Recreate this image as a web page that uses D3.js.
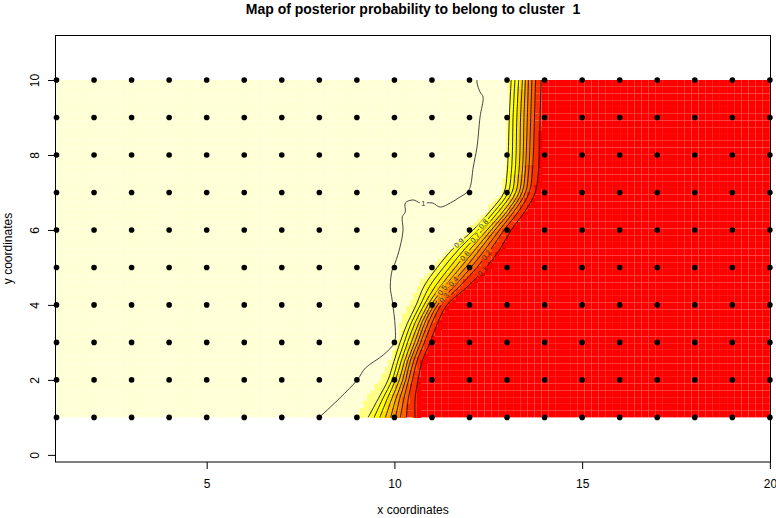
<!DOCTYPE html>
<html><head><meta charset="utf-8">
<script src="https://cdn.jsdelivr.net/npm/d3@7"></script>
<style>
body{margin:0;background:#fff}
svg{display:block}
text{font-family:"Liberation Sans",Arial,Helvetica,sans-serif}
</style>
</head><body>
<svg id="chart" width="776" height="518"></svg>
<script>
// ---- data ----
const pointX = [1,2,3,4,5,6,7,8,9,10,11,12,13,14,15,16,17,18,19,20];
const pointY = [1,2,3,4,5,6,7,8,9,10];
const xTicks = [5,10,15,20];
const yTicks = [0,2,4,6,8,10];
const contourLevels = ["0.9","0.8","0.7","0.6","0.5","0.4","0.3","0.2","0.1"];
// y positions at which contour x-positions were read
const contourY = [1,1.5,2,2.5,3,3.5,4,4.5,5,5.5,6,6.5,7,7.5,8,9,10];
const c09 = [9.30,9.57,9.83,9.99,10.15,10.34,10.58,10.79,11.14,11.56,12.10,12.55,12.92,13.00,13.03,13.06,13.11];
const c08 = [9.46,9.69,9.94,10.09,10.26,10.44,10.69,10.94,11.31,11.73,12.23,12.67,13.03,13.11,13.14,13.16,13.21];
const c07 = [9.61,9.81,10.03,10.18,10.35,10.54,10.79,11.09,11.47,11.88,12.35,12.78,13.13,13.21,13.24,13.26,13.31];
const c06 = [9.76,9.93,10.13,10.27,10.45,10.64,10.89,11.23,11.62,12.03,12.47,12.90,13.23,13.31,13.34,13.36,13.41];
const c05 = [9.90,10.04,10.22,10.35,10.54,10.72,10.98,11.35,11.76,12.17,12.58,13.00,13.32,13.40,13.43,13.45,13.49];
const c04 = [10.03,10.14,10.30,10.42,10.62,10.80,11.06,11.47,11.90,12.29,12.68,13.09,13.40,13.48,13.51,13.54,13.57];
const c03 = [10.16,10.25,10.38,10.51,10.70,10.89,11.15,11.60,12.04,12.43,12.80,13.19,13.49,13.57,13.60,13.63,13.66];
const c02 = [10.32,10.37,10.48,10.60,10.80,10.99,11.25,11.74,12.20,12.58,12.92,13.31,13.59,13.67,13.70,13.73,13.76];
const c01 = [10.55,10.55,10.63,10.74,10.95,11.14,11.40,11.96,12.44,12.82,13.11,13.48,13.75,13.83,13.86,13.88,13.91];
// boundary of the pale-yellow colour class (just left of the 0.9 line)
const paleEdge = [9.00,9.22,9.60,9.86,10.06,10.15,10.36,10.62,11.02,11.46,11.98,12.43,12.86,12.94,12.97,13.02,13.07];
// where each contour label sits (y)
const labelY = [5.65,6.16,5.79,5.31,4.40,4.62,4.19,5.33,4.90];
// the "1" contour
const contour1 = [[8.0,1.0],[8.55,1.52],[9.01,2.0],[9.23,2.32],[9.71,2.67],[10.0,3.0],[10.02,3.41],[9.94,4.13],[9.89,4.48],[9.94,4.93],[10.02,5.12],[10.15,5.55],[10.23,6.0],[10.21,6.35],[10.29,6.48],[10.29,6.72],[10.50,6.80],[10.69,6.72],[11.01,6.72],[11.22,6.61],[11.49,6.72],[11.75,6.88],[11.94,7.01],[12.02,7.15],[12.10,7.68],[12.20,8.21],[12.28,9.01],[12.36,9.55],[12.28,9.68],[12.20,9.92],[12.20,10.0]];
const label1 = [10.77,6.70];
// colour classes, left (high probability) to right (low)
const classColors = ["#FFFFD5","#FFFF80","#FFFF2A","#FFFF00","#FFDF00","#FFBF00","#FF9F00","#FF8000","#FF6000","#FF3000","#FF0000"];
const gridNX = 100, gridNY = 50, subdiv = 2;

// ---- setup ----
const svg = d3.select("#chart");
const x = d3.scaleLinear().domain([0.96,20.03]).range([55,771]);
const y = d3.scaleLinear().domain([-0.19,11.2]).range([462,35]);

const contours = [c09,c08,c07,c06,c05,c04,c03,c02,c01];
const boundaries = [paleEdge].concat(contours);

function xAt(arr, yv){
  for(let i=0;i<contourY.length-1;i++){
    if(yv>=contourY[i] && yv<=contourY[i+1]){
      const t=(yv-contourY[i])/(contourY[i+1]-contourY[i]);
      return arr[i]+t*(arr[i+1]-arr[i]);
    }
  }
  return yv<contourY[0]?arr[0]:arr[arr.length-1];
}
function classOf(cx,cy){
  let k=0;
  boundaries.forEach(b=>{ if(xAt(b,cy)<cx) k++; });
  return k;
}

// ---- image cells ----
const cellW = (20-1)/gridNX, cellH = (10-1)/gridNY;
const coarse = [], fine = [];
for(let i=0;i<gridNX;i++){
  for(let j=0;j<gridNY;j++){
    const x0=1+i*cellW, y0=1+j*cellH;
    const subs=[];
    for(let a=0;a<subdiv;a++) for(let b=0;b<subdiv;b++){
      const sx0=x0+a*cellW/subdiv, sy0=y0+b*cellH/subdiv;
      subs.push({x0:sx0,y0:sy0,x1:sx0+cellW/subdiv,y1:sy0+cellH/subdiv,
        k:classOf(sx0+cellW/subdiv/2, sy0+cellH/subdiv/2)});
    }
    if(subs.every(s=>s.k===subs[0].k)) coarse.push({x0,y0,x1:x0+cellW,y1:y0+cellH,k:subs[0].k});
    else subs.forEach(s=>fine.push(s));
  }
}
const img = svg.append("g");
img.append("g").selectAll("rect").data(coarse).join("rect")
  .attr("x",d=>x(d.x0)).attr("y",d=>y(d.y1))
  .attr("width",d=>x(d.x1)-x(d.x0)).attr("height",d=>y(d.y0)-y(d.y1))
  .attr("fill",d=>classColors[d.k]);
img.append("g").attr("shape-rendering","crispEdges").selectAll("rect").data(fine).join("rect")
  .attr("x",d=>x(d.x0)).attr("y",d=>y(d.y1))
  .attr("width",d=>x(d.x1)-x(d.x0)+0.3).attr("height",d=>y(d.y0)-y(d.y1)+0.3)
  .attr("fill",d=>classColors[d.k]);

// ---- contour labels & mask ----
const defs = svg.append("defs");
const mask = defs.append("mask").attr("id","labmask").attr("maskUnits","userSpaceOnUse")
  .attr("x",0).attr("y",0).attr("width",776).attr("height",518);
mask.append("rect").attr("x",0).attr("y",0).attr("width",776).attr("height",518).attr("fill","#fff");

const labels = contours.map((arr,i)=>{
  const ly=labelY[i];
  const lx=xAt(arr,ly);
  const xa=x(xAt(arr,ly-0.15)), ya=y(ly-0.15), xb=x(xAt(arr,ly+0.15)), yb=y(ly+0.15);
  let ang=Math.atan2(yb-ya,xb-xa)*180/Math.PI;
  if(ang>90) ang-=180; if(ang<-90) ang+=180;
  return {text:contourLevels[i],px:x(lx),py:y(ly),ang,w:12};
});
labels.push({text:"1",px:x(label1[0]),py:y(label1[1]),ang:0,w:5});

mask.selectAll("rect.hole").data(labels).join("rect").attr("class","hole")
  .attr("x",d=>-d.w/2-1).attr("y",-3.5).attr("width",d=>d.w+2).attr("height",7)
  .attr("transform",d=>`translate(${d.px},${d.py}) rotate(${d.ang})`).attr("fill","#000");

const line = d3.line().x(d=>x(d[0])).y(d=>y(d[1])).curve(d3.curveCatmullRom.alpha(0.5));
const lg = svg.append("g").attr("mask","url(#labmask)").attr("fill","none").attr("stroke","#111").attr("stroke-width",0.9);
contours.forEach(arr=>{
  lg.append("path").attr("d",line(arr.map((v,i)=>[v,contourY[i]])));
});
lg.append("path").attr("d",line(contour1)).attr("stroke","#333");

svg.append("g").selectAll("text").data(labels).join("text")
  .attr("transform",d=>`translate(${d.px},${d.py}) rotate(${d.ang})`)
  .attr("text-anchor","middle").attr("dy","0.35em")
  .attr("font-size","7.5px").attr("fill","#333").text(d=>d.text);

// ---- points ----
const pts=[];
pointX.forEach(a=>pointY.forEach(b=>pts.push([a,b])));
svg.append("g").selectAll("circle").data(pts).join("circle")
  .attr("cx",d=>x(d[0])).attr("cy",d=>y(d[1])).attr("r",2.8).attr("fill","#000");

// ---- box ----
svg.append("rect").attr("x",55.5).attr("y",35.5).attr("width",715).attr("height",426.5)
  .attr("fill","none").attr("stroke","#000").attr("stroke-width",1);

// ---- axes ----
const ax = svg.append("g").attr("transform","translate(0,462)")
  .call(d3.axisBottom(x).tickValues(xTicks).tickSize(7).tickSizeOuter(0).tickFormat(d3.format("d")));
ax.select(".domain").remove();
ax.selectAll("text").attr("y",26).attr("dy",null).attr("font-size","12px").attr("fill","#000");

const ay = svg.append("g").attr("transform","translate(55,0)")
  .call(d3.axisLeft(y).tickValues(yTicks).tickSize(7).tickSizeOuter(0).tickFormat(d3.format("d")));
ay.select(".domain").remove();
ay.selectAll("text").attr("x",null).attr("dy",null).attr("text-anchor","middle")
  .attr("transform","translate(-16,0) rotate(-90)").attr("font-size","12px").attr("fill","#000");

// ---- titles ----
svg.append("text").attr("x",413).attr("y",14).attr("text-anchor","middle")
  .attr("font-size","14px").attr("font-weight","bold").style("white-space","pre")
  .text("Map of posterior probability to belong to cluster  1");
svg.append("text").attr("x",413).attr("y",514).attr("text-anchor","middle")
  .attr("font-size","12px").text("x coordinates");
svg.append("text").attr("transform","translate(12,248.5) rotate(-90)").attr("text-anchor","middle")
  .attr("font-size","12px").text("y coordinates");
</script>
</body></html>
